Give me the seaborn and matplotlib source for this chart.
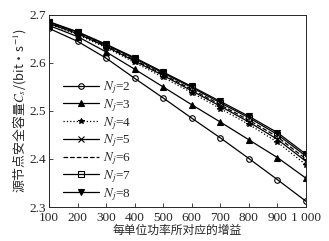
import matplotlib
matplotlib.use("Agg")
import matplotlib.pyplot as plt
import seaborn as sns
import numpy as np
import pandas as pd

gain = [100, 200, 300, 400, 500, 600, 700, 800, 900, 1000]
nj2 = [2.672, 2.645, 2.610, 2.568, 2.527, 2.485, 2.444, 2.401, 2.357, 2.312]
nj3 = [2.678, 2.655, 2.623, 2.587, 2.550, 2.513, 2.477, 2.440, 2.403, 2.360]
nj4 = [2.681, 2.659, 2.632, 2.601, 2.570, 2.538, 2.505, 2.472, 2.435, 2.388]
nj5 = [2.682, 2.661, 2.634, 2.604, 2.574, 2.542, 2.510, 2.477, 2.441, 2.395]
nj6 = [2.683, 2.662, 2.636, 2.606, 2.576, 2.545, 2.513, 2.481, 2.446, 2.400]
nj7 = [2.685, 2.664, 2.638, 2.609, 2.579, 2.549, 2.517, 2.486, 2.451, 2.406]
nj8 = [2.686, 2.665, 2.639, 2.611, 2.581, 2.551, 2.520, 2.489, 2.455, 2.410]

series = [nj2, nj3, nj4, nj5, nj6, nj7, nj8]
nj_values = [2, 3, 4, 5, 6, 7, 8]
rows = []
for n, vals in zip(nj_values, series):
    for g, v in zip(gain, vals):
        rows.append({'gain': g, 'cap': v, 'Nj': n})
df = pd.DataFrame(rows)

sns.set_style('ticks')
plt.rcParams['font.family'] = ['Liberation Serif', 'Noto Sans CJK SC']
plt.rcParams['mathtext.fontset'] = 'stix'

fig = plt.figure(figsize=(3.29, 2.41), dpi=100)
ax = fig.add_axes([0.149, 0.141, 0.781, 0.797])

markers = ['o', '^', '*', 'x', '', 's', 'v']
styles = ['-', '-', ':', '-', '--', '-', '-']
fills = ['none', 'black', 'black', 'black', 'none', 'none', 'black']
handles = []
labels = []
for n, m, ls, fc in zip(nj_values, markers, styles, fills):
    sub = df[df['Nj'] == n]
    sns.lineplot(data=sub, x='gain', y='cap', ax=ax, color='black',
                 linestyle=ls, linewidth=0.9, marker=m if m else None,
                 markersize=4, markerfacecolor=fc, markeredgecolor='black',
                 markeredgewidth=0.8)
    handles.append(ax.get_lines()[-1])
    labels.append(r'$N_j$=' + str(n))

ax.set_xlim(100, 1000)
ax.set_ylim(2.3, 2.7)
ax.set_xticks(gain)
ax.set_xticklabels(['100', '200', '300', '400', '500', '600', '700', '800', '900', '1 000'])
ax.set_yticks([2.3, 2.4, 2.5, 2.6, 2.7])
ax.set_yticklabels(['2.3', '2.4', '2.5', '2.6', '2.7'])
ax.tick_params(direction='in', labelsize=9.5, length=3, width=0.6, pad=2)
ax.tick_params(axis='x', pad=3.5)
for s in ax.spines.values():
    s.set_linewidth(0.7)
    s.set_visible(True)

ax.set_xlabel('每单位功率所对应的增益', fontsize=8.5, labelpad=0,
              family=['Noto Sans CJK SC'])
ax.set_ylabel(r'源节点安全容量$C_s$/(bit·s$^{-1}$)', fontsize=9.3, labelpad=1,
              family=['Noto Sans CJK SC', 'DejaVu Sans'])

ax.legend(handles, labels, loc='lower left', bbox_to_anchor=(0.02, -0.025),
          frameon=False, fontsize=9.5, handlelength=2.7, labelspacing=0.08,
          handletextpad=0.3, borderpad=0.2)

fig.savefig('out.png', dpi=100)
